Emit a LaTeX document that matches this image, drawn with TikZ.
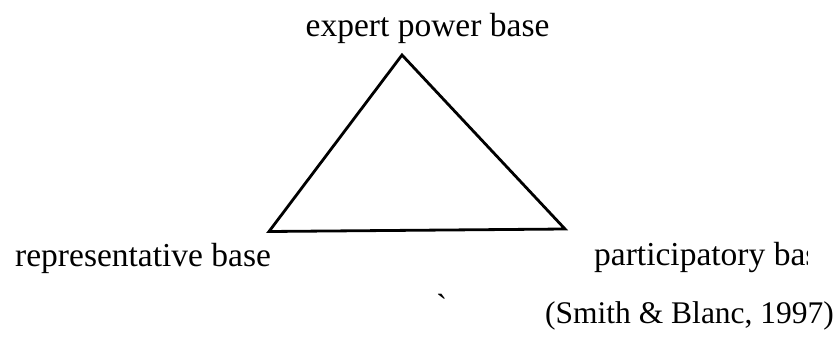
\documentclass[tikz,border=0pt]{standalone}
\usepackage{fontspec}
\setmainfont{Liberation Serif}
\newfontfamily\gravefont[Ligatures=TeXOff]{Liberation Serif}
\tikzset{lbl/.style={inner sep=0pt, anchor=base west, font=\fontsize{33.5}{40}\selectfont}}
\begin{document}
\begin{tikzpicture}[x=1pt,y=-1pt]
\useasboundingbox (0,0) rectangle (839,338);
\clip (0,0) rectangle (839,338);
\coordinate (top) at (402,55);
\coordinate (bl) at (269,231.5);
\coordinate (br) at (565,229);
\draw[line width=2.8pt, line join=miter] (top) -- (br) -- (bl) -- cycle;
\node[lbl] (expert) at (305.5,36.5) {expert power base};
\node[lbl] (repr) at (15,266) {representative base};
\begin{scope}
\clip (580,230) rectangle (807.5,280);
\node[lbl] (part) at (594,265.5) {participatory base};
\end{scope}
\node[lbl, font=\fontsize{31.5}{38}\selectfont] (cite) at (545,323) {(Smith \& Blanc, 1997)};
\node[lbl] (tick) at (436,317) {\gravefont\symbol{96}};
\end{tikzpicture}
\end{document}
